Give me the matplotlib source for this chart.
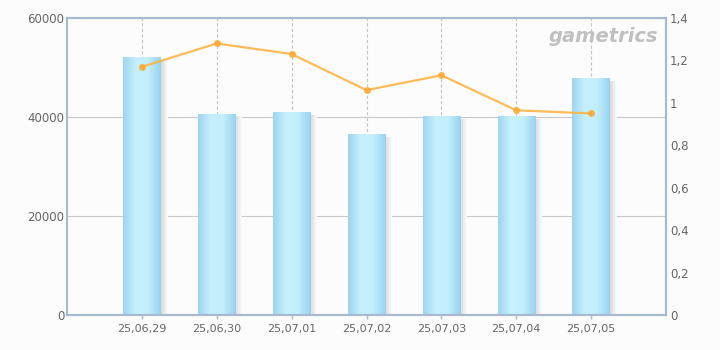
import matplotlib
matplotlib.use("Agg")
import matplotlib.pyplot as plt
import numpy as np
from matplotlib.colors import LinearSegmentedColormap

categories = ["25,06,29", "25,06,30", "25,07,01", "25,07,02", "25,07,03", "25,07,04", "25,07,05"]
bar_values = [52100, 40600, 41000, 36400, 40000, 40000, 47700]
line_values = [1.17, 1.28, 1.23, 1.06, 1.13, 0.965, 0.95]
left_ticks = [0, 20000, 40000, 60000]
right_ticks = [0, 0.2, 0.4, 0.6, 0.8, 1.0, 1.2, 1.4]

fig = plt.figure(figsize=(7.2, 3.5), dpi=100)
fig.patch.set_facecolor("#fcfcfc")
ax = fig.add_axes([67/720, 35/350, 599/720, 297/350])
ax.set_facecolor("#fcfcfc")

x = np.arange(len(categories))
w = 0.5
ax.set_xlim(-1, len(categories))
ax.set_ylim(0, 60000)

cmap = LinearSegmentedColormap.from_list("bar", ["#9dd5f1", "#c6f0fd", "#c3eefc", "#98d2f0"])
grad = np.linspace(0, 1, 64).reshape(1, -1)
shadow_cmap = LinearSegmentedColormap.from_list("sh", ["#d8d8d8", "#fcfcfc"])
for xi, v in zip(x, bar_values):
    # shadow
    ax.imshow(grad, cmap=shadow_cmap, aspect="auto",
              extent=(xi + w/2, xi + w/2 + 0.09, 0, v - 600), zorder=1.5)
    ax.imshow(grad, cmap=cmap, aspect="auto",
              extent=(xi - w/2, xi + w/2, 0, v), zorder=2)
ax.set_xlim(-1, len(categories))
ax.set_ylim(0, 60000)

ax.set_xticks(x)
ax.set_xticklabels(categories)
ax.set_yticks(left_ticks)
ax.set_yticklabels([str(t) for t in left_ticks])
ax.grid(axis="x", color="#c4c4c4", linestyle=(0, (3, 2)), linewidth=0.8)
ax.grid(axis="y", color="#c8c8c8", linestyle="-", linewidth=0.8)
ax.set_axisbelow(True)

for s in ax.spines.values():
    s.set_color("#a8bad0")
    s.set_linewidth(1.5)
ax.tick_params(axis="x", colors="#a8bad0", labelcolor="#666666", labelsize=8, length=3, width=1)
ax.tick_params(axis="y", length=0, labelcolor="#666666", labelsize=8.5, pad=2)

ax2 = ax.twinx()
ax2.set_ylim(0, 1.4)
ax2.plot(x, line_values, color="#ffb03b", alpha=0.85, linewidth=1.6,
         marker="o", markersize=4, markerfacecolor="#ffab33", markeredgecolor="#ffab33", zorder=5)
ax2.set_yticks(right_ticks)
ax2.set_yticklabels([("%g" % t).replace(".", ",") for t in right_ticks])
ax2.tick_params(axis="y", length=0, labelcolor="#666666", labelsize=8.5, pad=3)
for s in ax2.spines.values():
    s.set_color("#a8bad0")
    s.set_linewidth(1.5)

fig.text(603/720, 1 - 37/350, "gametrics", ha="center", va="center", fontsize=14,
         fontweight="bold", fontstyle="italic", color="#c0c0c0", zorder=10)

fig.savefig("out.png", dpi=100, facecolor=fig.get_facecolor())
